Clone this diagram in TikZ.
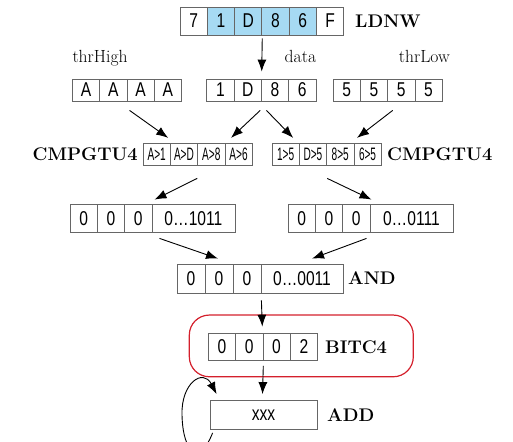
\documentclass[tikz,border=0pt]{standalone}
\usepackage{fontspec}
\usepackage{tikz}
\usetikzlibrary{arrows.meta}
\newfontfamily\cellfont[FakeStretch=0.78]{Liberation Sans}
\newfontfamily\narrowfont[FakeStretch=0.56]{Liberation Sans}
\definecolor{regblue}{RGB}{166,218,243}
\definecolor{hlred}{RGB}{212,32,44}
\tikzset{
  cell/.style={draw=black!60, line width=0.8pt, inner sep=0pt, minimum width=27.3pt,
    minimum height=#1, font=\cellfont\fontsize{20}{20}\selectfont},
  cell/.default=22pt,
  cmp/.style={cell, font=\narrowfont\fontsize{18}{18}\selectfont},
  op/.style={inner sep=0pt, font=\fontsize{18.3}{20}\selectfont\bfseries},
  lbl/.style={inner sep=0pt, font=\fontsize{17.6}{19}\selectfont},
  hl/.style={draw=hlred, line width=1.2pt, rounded corners=20pt, minimum width=224pt,
    minimum height=61.7pt},
  arr/.style={-{Latex[length=12pt,width=9pt]}, line width=0.9pt},
}
\begin{document}
\begin{tikzpicture}[x=1pt,y=-1pt]
\useasboundingbox (0,0) rectangle (513,441);

\node[cell=28pt] (ld1) at (193.6,21) {7};
\node[cell=28pt,fill=regblue] (ld2) at (220.9,21) {1};
\node[cell=28pt,fill=regblue] (ld3) at (248.2,21) {D};
\node[cell=28pt,fill=regblue] (ld4) at (275.5,21) {8};
\node[cell=28pt,fill=regblue] (ld5) at (302.8,21) {6};
\node[cell=28pt] (ld6) at (330.1,21) {F};
\node[op,anchor=west] (ldnw) at (355,21) {LDNW};

\node[cell] (hi1) at (86,90) {A};
\node[cell] (hi2) at (113.3,90) {A};
\node[cell] (hi3) at (140.6,90) {A};
\node[cell] (hi4) at (167.9,90) {A};
\node[lbl,anchor=base west] (hilbl) at (72.3,62.5) {thrHigh};

\node[cell] (dt1) at (220.35,90) {1};
\node[cell] (dt2) at (247.65,90) {D};
\node[cell] (dt3) at (274.95,90) {8};
\node[cell] (dt4) at (302.25,90) {6};
\node[lbl,anchor=base east] (dtlbl) at (316.3,62.5) {data};

\node[cell] (lo1) at (346.65,90) {5};
\node[cell] (lo2) at (373.95,90) {5};
\node[cell] (lo3) at (401.25,90) {5};
\node[cell] (lo4) at (428.55,90) {5};
\node[lbl,anchor=base east] (lolbl) at (450,62.5) {thrLow};

\node[cmp] (cl1) at (156.65,154) {A>1};
\node[cmp] (cl2) at (183.95,154) {A>D};
\node[cmp] (cl3) at (211.25,154) {A>8};
\node[cmp] (cl4) at (238.55,154) {A>6};
\node[op,anchor=east] (cmpl) at (138,154) {CMPGTU4};

\node[cmp] (cr1) at (285.65,154) {1>5};
\node[cmp] (cr2) at (312.95,154) {D>5};
\node[cmp] (cr3) at (340.25,154) {8>5};
\node[cmp] (cr4) at (367.55,154) {6>5};
\node[op,anchor=west] (cmpr) at (387,154) {CMPGTU4};

\node[cell=28pt] (ml1) at (83.65,218.5) {0};
\node[cell=28pt] (ml2) at (110.95,218.5) {0};
\node[cell=28pt] (ml3) at (138.25,218.5) {0};
\node[cell=28pt,minimum width=83pt] (ml4) at (193.4,218.5) {0…1011};

\node[cell=28pt] (mr1) at (301.65,218.5) {0};
\node[cell=28pt] (mr2) at (328.95,218.5) {0};
\node[cell=28pt] (mr3) at (356.25,218.5) {0};
\node[cell=28pt,minimum width=83pt] (mr4) at (411.4,218.5) {0…0111};

\node[cell=29pt,minimum width=28pt] (an1) at (191,278.5) {0};
\node[cell=29pt,minimum width=28pt] (an2) at (219,278.5) {0};
\node[cell=29pt,minimum width=28pt] (an3) at (247,278.5) {0};
\node[cell=29pt,minimum width=82pt] (an4) at (302,278.5) {0…0011};
\node[op,anchor=west] (andl) at (348,278.5) {AND};

\node[hl] (frame) at (301.3,345.9) {};
\node[cell=27.5pt] (bc1) at (221.95,346.8) {0};
\node[cell=27.5pt] (bc2) at (249.25,346.8) {0};
\node[cell=27.5pt] (bc3) at (276.55,346.8) {0};
\node[cell=27.5pt] (bc4) at (303.85,346.8) {2};
\node[op,anchor=west] (bitc) at (325,347) {BITC4};

\node[cell=29pt,minimum width=107pt] (acc) at (263.5,415) {xxx};
\node[op,anchor=west] (addl) at (327,415.5) {ADD};
\coordinate (loopl) at (182,415);

\draw[arr] ([yshift=-3pt]ld3.south east) -- ([yshift=7pt]dt2.north east);
\draw[arr] ([shift={(3pt,-9pt)}]hi3.south west) -- ([shift={(-2.5pt,4.7pt)}]cl1.north east);
\draw[arr] ([shift={(-1.5pt,-9pt)}]dt2.south east) -- ([shift={(6.5pt,4.7pt)}]cl4.north west);
\draw[arr] ([shift={(5.5pt,-9pt)}]dt3.south west) -- ([shift={(-6.5pt,4.7pt)}]cr1.north east);
\draw[arr] ([shift={(5.5pt,-9pt)}]lo3.south west) -- ([shift={(3.5pt,4.7pt)}]cr4.north west);
\draw[arr] ([yshift=-13pt]cl3.south west) -- ([shift={(3pt,4.5pt)}]ml4.north west);
\draw[arr] ([shift={(1pt,-13pt)}]cr3.south west) -- ([shift={(2pt,4.5pt)}]mr4.north west);
\draw[arr] ([shift={(8pt,-5.5pt)}]ml4.south west) -- ([shift={(-1pt,5pt)}]an2.north);
\draw[arr] ([shift={(-3pt,-5.5pt)}]mr4.south west) -- ([shift={(10pt,5pt)}]an4.north);
\draw[arr] ([yshift=-7pt]an3.south east) -- ([shift={(-1pt,6pt)}]bc2.north east);
\draw[arr] ([yshift=-5pt]bc2.south east) -- ([shift={(-1pt,6pt)}]acc.north);
\draw[arr] ([shift={(3pt,-3pt)}]acc.south west) .. controls (200,465) and (183,455) .. (loopl)
  .. controls (181,383) and (203,368) .. ([shift={(7pt,6pt)}]acc.north west);
\end{tikzpicture}
\end{document}
